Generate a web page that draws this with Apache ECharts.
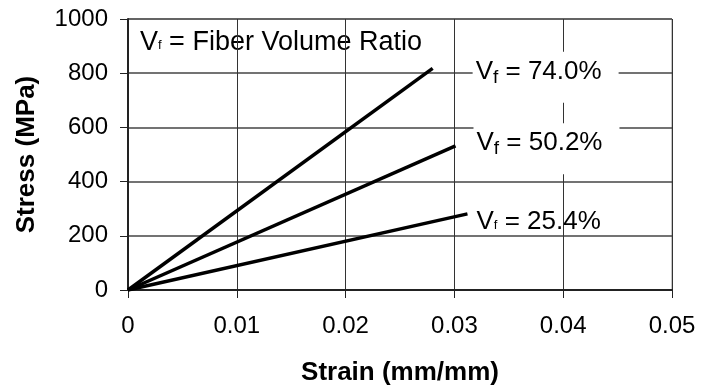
<!DOCTYPE html>
<html><head><meta charset="utf-8">
<script src="https://cdn.jsdelivr.net/npm/echarts@6/dist/echarts.min.js"></script>
<style>html,body{margin:0;padding:0;background:#fff}#c{width:704px;height:391px}</style>
</head><body><div id="c"></div>
<script>
const seriesNames = ['74.0%', '50.2%', '25.4%'];
const strain74 = [0, 0.028];
const stress74 = [0, 818];
const strain50 = [0, 0.0301];
const stress50 = [0, 532];
const strain25 = [0, 0.0312];
const stress25 = [0, 281];
const xTicks = [0, 0.01, 0.02, 0.03, 0.04, 0.05];
const yTicks = [0, 200, 400, 600, 800, 1000];

const FONT = '"Liberation Sans", Arial, sans-serif';
const chart = echarts.init(document.getElementById('c'), null, {renderer: 'canvas'});
function pts(xs, ys) { return xs.map((x, i) => [x, ys[i]]); }
const richBase = {
  m: {fontSize: 26, fontFamily: FONT, color: '#000', lineHeight: 28, verticalAlign: 'top'},
  M: {fontSize: 27, fontFamily: FONT, color: '#000', lineHeight: 28, verticalAlign: 'top'},
  s: {fontSize: 19, fontFamily: FONT, color: '#000', lineHeight: 18, verticalAlign: 'bottom', padding: [14, 0, 0, 0]},
  t: {fontSize: 13, fontFamily: FONT, color: '#000', lineHeight: 14, verticalAlign: 'bottom', padding: [0, 0, 5, 0]}
};
function lineSeries(name, data, offset, bg, tiny, padding) {
  return {
    type: 'line', name: name, data: data, symbol: 'none', animation: false,
    lineStyle: {color: '#000', width: 3.5},
    endLabel: {
      show: true,
      formatter: () => '{m|V}{' + (tiny ? 't' : 's') + '|f}{m| = ' + name + '}',
      offset: offset, distance: 0,
      backgroundColor: bg ? '#fff' : 'transparent',
      padding: padding,
      rich: richBase
    }
  };
}
chart.setOption({
  animation: false,
  grid: {left: 128, right: 32, top: 19, bottom: 101, show: true, borderColor: '#8a8a8a', borderWidth: 1},
  xAxis: {
    type: 'value', min: xTicks[0], max: xTicks[xTicks.length - 1], interval: 0.01,
    name: 'Strain (mm/mm)', nameLocation: 'middle', nameGap: 70,
    nameTextStyle: {fontSize: 26, fontWeight: 'bold', fontFamily: FONT, color: '#000'},
    axisLine: {lineStyle: {color: '#222', width: 2}},
    axisTick: {show: true, length: 8, lineStyle: {color: '#222', width: 1}},
    axisLabel: {fontSize: 24, fontFamily: FONT, color: '#000', margin: 24,
      formatter: v => String(Math.round(v * 100) / 100)},
    splitLine: {show: true, lineStyle: {color: '#333', width: 1}}
  },
  yAxis: {
    type: 'value', min: yTicks[0], max: yTicks[yTicks.length - 1], interval: 200,
    name: 'Stress (MPa)', nameLocation: 'middle', nameGap: 88,
    nameTextStyle: {fontSize: 26, fontWeight: 'bold', fontFamily: FONT, color: '#000'},
    axisLine: {show: true, lineStyle: {color: '#222', width: 2}},
    axisTick: {show: true, length: 8, lineStyle: {color: '#222', width: 1}},
    axisLabel: {fontSize: 24, fontFamily: FONT, color: '#000', margin: 20, formatter: v => String(v)},
    splitLine: {show: true, lineStyle: {color: '#444', width: 1.5}}
  },
  series: [
    lineSeries(seriesNames[0], pts(strain74, stress74), [40, 9], true, false, [7, 17, 16, 3]),
    lineSeries(seriesNames[1], pts(strain50, stress50), [18, 3], true, false, [7, 17, 16, 3]),
    lineSeries(seriesNames[2], pts(strain25, stress25), [6, 9], false, true, [0, 3, 0, 3])
  ],
  graphic: [{
    type: 'text', left: 140, top: 29, silent: true,
    style: {
      text: '{M|V}{t|f}{M| = Fiber Volume Ratio}',
      rich: richBase
    }
  }]
});
</script></body></html>
